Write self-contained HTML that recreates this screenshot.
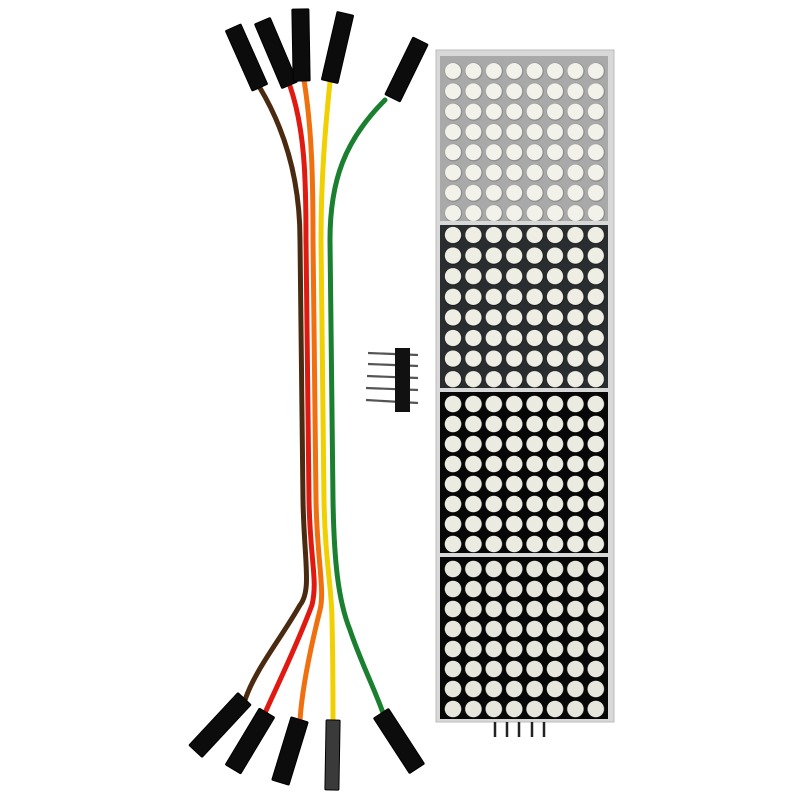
<!DOCTYPE html>
<html><head><meta charset="utf-8"><style>html,body{margin:0;padding:0;background:#fff}svg{display:block}</style></head>
<body>
<svg width="800" height="800" viewBox="0 0 800 800" xmlns="http://www.w3.org/2000/svg">
<defs>
<pattern id="p1" x="443" y="61" width="20.4" height="20.3" patternUnits="userSpaceOnUse"><circle cx="10.4" cy="10.4" r="8.8" fill="#8a8a8a"/><circle cx="10" cy="10" r="8" fill="#f2f2ea"/></pattern>
<pattern id="p2" x="443" y="225" width="20.4" height="20.6" patternUnits="userSpaceOnUse"><circle cx="10.2" cy="10.2" r="8.8" fill="#111"/><circle cx="10" cy="10" r="8.2" fill="#eeeee4"/></pattern>
<pattern id="p3" x="443" y="394" width="20.4" height="20.0" patternUnits="userSpaceOnUse"><circle cx="10" cy="10" r="8.3" fill="#ebebe1"/></pattern>
<pattern id="p4" x="443" y="559" width="20.4" height="20.0" patternUnits="userSpaceOnUse"><circle cx="10" cy="10" r="8.3" fill="#e6e6dc"/></pattern>
</defs>
<rect x="436" y="50" width="178" height="672" fill="#d8d8d8" stroke="#bbb"/>
<rect x="440" y="56" width="168" height="165" fill="#a9a9a9"/>
<rect x="443" y="61" width="163" height="160" fill="url(#p1)"/>
<rect x="440" y="225" width="168" height="163" fill="#2a2d2f"/>
<rect x="443" y="225" width="163" height="163" fill="url(#p2)"/>
<rect x="440" y="392" width="168" height="161" fill="#070707"/>
<rect x="443" y="394" width="163" height="160" fill="url(#p3)"/>
<rect x="440" y="557" width="168" height="162" fill="#070707"/>
<rect x="443" y="559" width="163" height="160" fill="url(#p4)"/>
<g stroke="#222" stroke-width="2.5">
<line x1="495" y1="722" x2="495" y2="737"/><line x1="507" y1="722" x2="507" y2="737"/><line x1="519" y1="722" x2="519" y2="737"/><line x1="532" y1="722" x2="532" y2="737"/><line x1="544" y1="722" x2="544" y2="737"/>
</g>
<g stroke="#555" stroke-width="2.2">
<line x1="368" y1="353" x2="418" y2="355"/><line x1="368" y1="364" x2="418" y2="366"/><line x1="367" y1="376" x2="418" y2="378"/><line x1="366" y1="388" x2="418" y2="390"/><line x1="366" y1="400" x2="418" y2="403"/>
</g>
<rect x="395" y="348" width="15" height="64" fill="#111"/>
<g fill="none" stroke-width="5" stroke-linecap="round">
<path d="M260 88 C285 130 300 180 300 240 L303 500 C304 560 312 590 300 605 C280 640 255 670 245 700" stroke="#4a2a10"/>
<path d="M290 86 C305 130 306 180 306 240 L309 500 C310 560 318 580 312 605 C295 650 275 690 265 713" stroke="#e01a10"/>
<path d="M304 80 C312 130 313 180 313 240 L316 500 C317 560 325 590 320 610 C310 650 302 690 300 720" stroke="#f07010"/>
<path d="M330 82 C325 130 321 180 321 240 L324 500 C325 560 332 590 332 620 C333 660 333 700 333 720" stroke="#f0d000"/>
<path d="M385 100 C345 140 330 180 330 240 L333 500 C334 560 338 600 350 630 C360 660 375 690 383 713" stroke="#1a8030"/>
</g>
<g fill="#0c0c0c" stroke="#000" stroke-width="1">
<g transform="translate(246.5,57.5) rotate(-24)"><rect x="-8.5" y="-33" width="17" height="66" rx="1"/></g>
<g transform="translate(276,53) rotate(-23)"><rect x="-8.5" y="-35" width="17" height="70" rx="1"/></g>
<g transform="translate(301,45) rotate(-1)"><rect x="-8.5" y="-36" width="17" height="72" rx="1"/></g>
<g transform="translate(337.5,47.5) rotate(13)"><rect x="-8.5" y="-35" width="17" height="70" rx="1"/></g>
<g transform="translate(406.5,69.5) rotate(26)"><rect x="-8.5" y="-32" width="17" height="64" rx="1"/></g>
</g>
<g fill="#0c0c0c" stroke="#000" stroke-width="1">
<g transform="translate(220,725) rotate(43)"><rect x="-9" y="-36" width="18" height="72" rx="1"/></g>
<g transform="translate(250,741) rotate(31)"><rect x="-9" y="-33" width="18" height="66" rx="1"/></g>
<g transform="translate(290,751) rotate(17)"><rect x="-9" y="-33" width="18" height="66" rx="1"/></g>
<g transform="translate(332.5,755) rotate(1)"><rect x="-7" y="-35" width="14" height="70" rx="1" fill="#3a3a3a"/></g>
<g transform="translate(399,741) rotate(-33)"><rect x="-9" y="-33" width="18" height="66" rx="1"/></g>
</g>
</svg>
</body></html>
